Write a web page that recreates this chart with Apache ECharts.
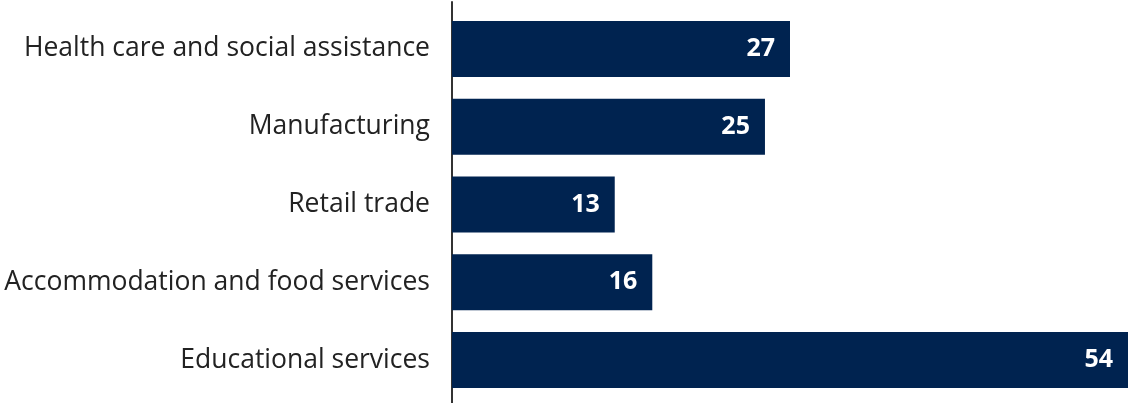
<!DOCTYPE html>
<html>
<head>
<meta charset="utf-8">
<script src="https://cdn.jsdelivr.net/npm/echarts@6/dist/echarts.min.js"></script>
<style>
  html, body { margin: 0; padding: 0; background: #fff; }
  #chart { width: 1128px; height: 403px; }
</style>
</head>
<body>
<div id="chart"></div>
<script>
// data
var categories = ['Health care and social assistance', 'Manufacturing', 'Retail trade',
    'Accommodation and food services', 'Educational services'];
var values = [27, 25, 13, 16, 54];

var myChart = echarts.init(document.getElementById('chart'));
var option = {
    animation: false,
    grid: [
        { left: 452, right: -5, top: 10, bottom: 4 },
        // only used to draw the full height axis line
        { left: 452, right: -5, top: 2, bottom: 0 }
    ],
    xAxis: [
        { type: 'value', gridIndex: 0, min: 0, max: 54, show: false },
        { type: 'value', gridIndex: 1, min: 0, max: 54, show: false }
    ],
    yAxis: [
        {
            type: 'category',
            gridIndex: 0,
            inverse: true,
            data: categories,
            axisLine: { show: false },
            axisTick: { show: false },
            axisLabel: {
                margin: 22,
                fontFamily: 'Open Sans',
                fontSize: 26.5,
                color: '#222'
            }
        },
        {
            type: 'value',
            gridIndex: 1,
            axisLine: { show: true, lineStyle: { color: '#333', width: 2 } },
            axisTick: { show: false },
            axisLabel: { show: false },
            splitLine: { show: false }
        }
    ],
    series: [
        {
            type: 'bar',
            xAxisIndex: 0,
            yAxisIndex: 0,
            data: values,
            barCategoryGap: '28%',
            itemStyle: { color: '#002350' },
            label: {
                show: true,
                position: 'insideRight',
                distance: 15,
                color: '#fff',
                fontFamily: 'Open Sans',
                fontWeight: 'bold',
                fontSize: 25
            }
        }
    ]
};
myChart.setOption(option);
</script>
</body>
</html>
